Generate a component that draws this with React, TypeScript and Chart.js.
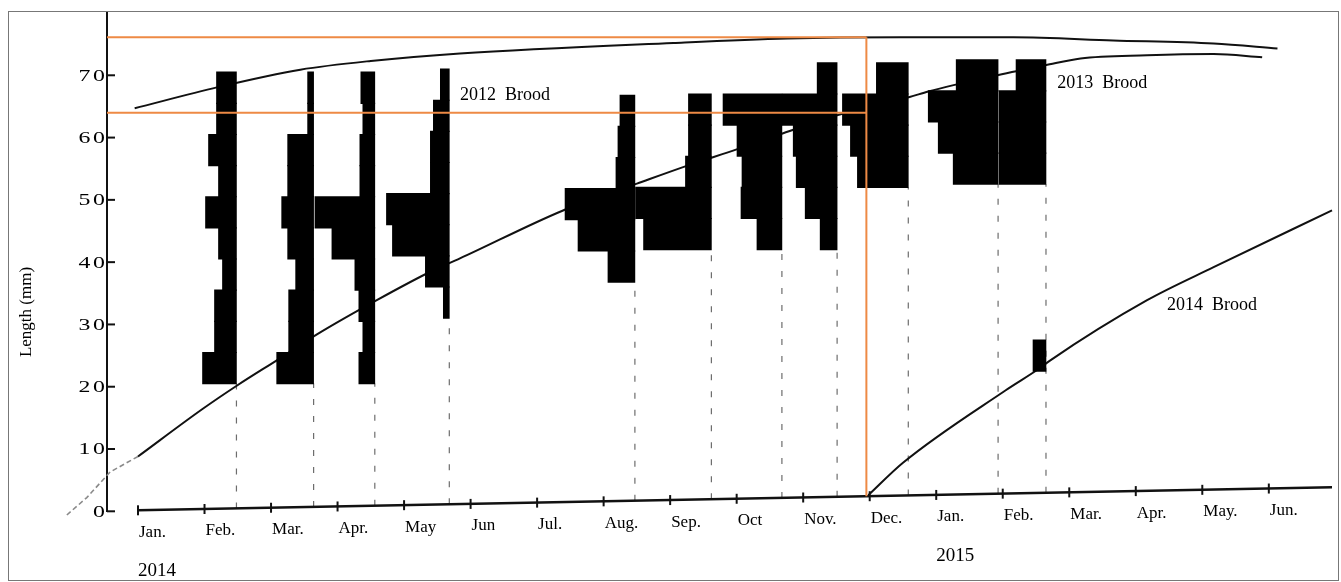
import React, { useEffect, useRef } from 'react';
import { Chart, registerables } from 'chart.js';

Chart.register(...registerables);

const SERIF = '"Liberation Serif", "Times New Roman", serif';

// Time axis: month index, 0 = January 2014, 12 = January 2015
const MONTH_LABELS = ['Jan.', 'Feb.', 'Mar.', 'Apr.', 'May', 'Jun', 'Jul.', 'Aug.', 'Sep.', 'Oct', 'Nov.', 'Dec.',
  'Jan.', 'Feb.', 'Mar.', 'Apr.', 'May.', 'Jun.'];
const YEAR_LABELS = ['2014', '2015'];
const YEAR_START_MONTHS = [0, 12];
const LENGTH_TICKS = [0, 10, 20, 30, 40, 50, 60, 70];

// The drawn time axis drifts upward slightly from left to right (mm at its two ends)
const TIME_AXIS_MONTHS = [0, 17.95];
const TIME_AXIS_MM = [0.16, 3.85];

// Sampling dates and length-frequency per 5 mm size class (counts from the lowest class upward)
const SAMPLE_MONTHS = [1.48, 2.64, 3.56, 4.68, 7.47, 8.62, 9.68, 10.51, 11.58, 12.93, 13.65];
const SAMPLE_LOWEST_CLASS_MM = [20.5, 20.5, 20.5, 31, 36.8, 42, 42, 42, 52, 52.5, 22.5];
const SAMPLE_COUNTS = [
  [34, 22, 22, 14, 18, 31, 18, 28, 20, 20],
  [37, 25, 25, 18, 26, 32, 26, 26, 6, 6],
  [16, 12, 16, 20, 43, 60, 15, 15, 12, 14],
  [6, 24, 57, 63, 19, 19, 16, 9],
  [27, 57, 70, 19, 17, 15],
  [68, 76, 26, 23, 23],
  [25, 41, 40, 45, 59],
  [17, 32, 41, 44, 55, 20],
  [51, 58, 66, 32],
  [45, 60, 70, 42],
  [13, 0, 0, 0, 0, 0, 47, 47, 47, 30],
];
const CLASS_WIDTH_MM = 5;
const MONTHS_PER_FISH = 0.015;

// Growth curves: [month index, length mm]
const BROOD_2012 = [[-0.05, 64.7], [1.2, 68.1], [2.44, 70.9], [3.5, 72.3], [4.84, 73.5], [8.05, 75.2],
  [9.76, 75.9], [11.46, 76.1], [13.16, 76.1], [14.66, 75.6], [16.17, 75.1], [17.13, 74.3]];
// back-calculated part before January, listed from January backwards
const BROOD_2013_EARLY = [[0, 8.8], [-0.42, 6.3], [-0.77, 2.2], [-1.07, -0.6]];
const BROOD_2013 = [[0, 8.8], [0.98, 16.5], [1.49, 20.2], [2.14, 24.6], [2.69, 28.4],
  [3.59, 33.9], [4.44, 38.7], [4.84, 40.6], [6.39, 48.3], [7.5, 52.6], [8.26, 55.5], [9.0, 58.1],
  [9.7, 60.7], [10.55, 63.7], [11.6, 66.5], [11.88, 67.4], [12.92, 70.0], [13.64, 71.6],
  [14.17, 72.7], [15.17, 73.2], [16.17, 73.4], [16.9, 72.9]];
const BROOD_2014 = [[10.98, 2.6], [11.5, 7.8], [13.04, 19.4], [13.56, 23.0], [13.71, 24.2],
  [15.17, 33.9], [16.17, 39.2], [17.95, 48.3]];

// Reference guides at the December sample
const GUIDE_MONTH = 10.95;
const GUIDE_LEVELS_MM = [76.1, 64.0];

const BROOD_NAMES = ['2012  Brood', '2013  Brood', '2014  Brood'];
const BROOD_NAME_ANCHORS = [[4.84, 66.8], [13.82, 68.7], [15.47, 33.1]];

const X_MIN = -0.466;
const X_MAX = 18.04;

const axisMm = (m: number) =>
  TIME_AXIS_MM[0] + ((TIME_AXIS_MM[1] - TIME_AXIS_MM[0]) * (m - TIME_AXIS_MONTHS[0])) /
    (TIME_AXIS_MONTHS[1] - TIME_AXIS_MONTHS[0]);

const toPoints = (pairs: number[][]) => pairs.map(([x, y]) => ({ x, y }));

function buildHistogramBars() {
  const bars: { x: number[]; y: number }[] = [];
  SAMPLE_MONTHS.forEach((month, s) => {
    SAMPLE_COUNTS[s].forEach((count, k) => {
      if (count > 0) {
        bars.push({
          y: SAMPLE_LOWEST_CLASS_MM[s] + CLASS_WIDTH_MM * (k + 0.5),
          x: [month - count * MONTHS_PER_FISH, month],
        });
      }
    });
  });
  return bars;
}

// lower edge of the uppermost continuous block of size classes
function sampleLineTop(s: number) {
  const counts = SAMPLE_COUNTS[s];
  let k = counts.length - 1;
  while (k > 0 && counts[k - 1] > 0) k--;
  return SAMPLE_LOWEST_CLASS_MM[s] + CLASS_WIDTH_MM * k;
}

const lineBase = {
  type: 'line' as const,
  pointRadius: 0,
  fill: false,
  clip: false as any,
};

// wide, slightly tracked numerals, right-aligned at xRight
function drawWideNumber(ctx: CanvasRenderingContext2D, text: string, xRight: number, yMid: number) {
  const stretch = 1.4;
  const gap = 2;
  const widths = [...text].map((c) => ctx.measureText(c).width);
  const total = widths.reduce((a, b) => a + b, 0) + gap * (widths.length - 1);
  ctx.save();
  ctx.translate(xRight - total * stretch, yMid);
  ctx.scale(stretch, 1);
  let cx = 0;
  [...text].forEach((c, i) => {
    ctx.fillText(c, cx, 0);
    cx += widths[i] + gap;
  });
  ctx.restore();
}

const overlayPlugin = {
  id: 'figureOverlay',
  afterDatasetsDraw(chart: any) {
    const { ctx, chartArea, scales } = chart;
    const x = scales.x;
    const y = scales.y;
    ctx.save();

    // length axis: inward tick marks and labels
    ctx.strokeStyle = '#111';
    ctx.fillStyle = '#000';
    ctx.lineWidth = 2;
    ctx.textBaseline = 'middle';
    ctx.textAlign = 'left';
    ctx.font = `17px ${SERIF}`;
    LENGTH_TICKS.forEach((v) => {
      const py = y.getPixelForValue(v);
      ctx.beginPath();
      ctx.moveTo(chartArea.left, py);
      ctx.lineTo(chartArea.left + 8, py);
      ctx.stroke();
      drawWideNumber(ctx, String(v), chartArea.left - 2, py + 1);
    });

    // month ticks and labels along the time axis
    MONTH_LABELS.forEach((label, m) => {
      const px = x.getPixelForValue(m);
      const py = y.getPixelForValue(axisMm(m));
      ctx.beginPath();
      ctx.moveTo(px, py - 5);
      ctx.lineTo(px, py + 5);
      ctx.stroke();
      ctx.fillText(label, px + 1, py + 22);
    });

    ctx.font = `19px ${SERIF}`;
    YEAR_LABELS.forEach((label, i) => {
      const m = YEAR_START_MONTHS[i];
      const px = x.getPixelForValue(m);
      const py = y.getPixelForValue(axisMm(m));
      ctx.fillText(label, px, py + 61);
    });

    // brood names
    ctx.font = `18px ${SERIF}`;
    BROOD_NAMES.forEach((name, i) => {
      const [m, mm] = BROOD_NAME_ANCHORS[i];
      ctx.fillText(name, x.getPixelForValue(m), y.getPixelForValue(mm));
    });

    // length axis title
    ctx.font = `17px ${SERIF}`;
    ctx.textAlign = 'center';
    ctx.translate(chartArea.left - 80, y.getPixelForValue(32));
    ctx.rotate(-Math.PI / 2);
    ctx.fillText('Length (mm)', 0, 0);

    ctx.restore();
  },
};

export default function App() {
  const canvasRef = useRef<HTMLCanvasElement | null>(null);

  useEffect(() => {
    const canvas = canvasRef.current;
    if (!canvas) return;

    const guideColor = '#EE8A45';
    const datasets: any[] = [];

    GUIDE_LEVELS_MM.forEach((level) => {
      datasets.push({
        ...lineBase,
        data: [{ x: X_MIN, y: level }, { x: GUIDE_MONTH, y: level }],
        borderColor: guideColor,
        borderWidth: 2,
        order: 0,
      });
    });
    datasets.push({
      ...lineBase,
      data: [{ x: GUIDE_MONTH, y: GUIDE_LEVELS_MM[0] }, { x: GUIDE_MONTH, y: axisMm(GUIDE_MONTH) }],
      borderColor: guideColor,
      borderWidth: 2,
      order: 0,
    });

    datasets.push({
      type: 'bar',
      indexAxis: 'y',
      data: buildHistogramBars(),
      backgroundColor: '#000',
      borderWidth: 0,
      barThickness: 31.6,
      grouped: false,
      order: 1,
    });

    [BROOD_2012, BROOD_2013, BROOD_2014].forEach((curve) => {
      datasets.push({
        ...lineBase,
        data: toPoints(curve),
        borderColor: '#111',
        borderWidth: 2,
        cubicInterpolationMode: 'monotone',
        order: 2,
      });
    });
    datasets.push({
      ...lineBase,
      data: toPoints(BROOD_2013_EARLY),
      borderColor: '#8a8a8a',
      borderWidth: 1.6,
      borderDash: [5, 3],
      order: 2,
    });

    datasets.push({
      ...lineBase,
      data: TIME_AXIS_MONTHS.map((m, i) => ({ x: m, y: TIME_AXIS_MM[i] })),
      borderColor: '#111',
      borderWidth: 2.5,
      order: 3,
    });

    SAMPLE_MONTHS.forEach((m, s) => {
      datasets.push({
        ...lineBase,
        data: [{ x: m, y: axisMm(m) }, { x: m, y: sampleLineTop(s) }],
        borderColor: 'rgba(60,60,60,0.75)',
        borderWidth: 1.2,
        borderDash: [6, 11],
        order: 4,
      });
    });

    const chart = new Chart(canvas, {
      type: 'line',
      data: { datasets },
      options: {
        responsive: false,
        animation: false,
        events: [],
        layout: { padding: { top: 1, bottom: 68.7, left: 0, right: 0 } },
        plugins: { legend: { display: false }, tooltip: { enabled: false } },
        scales: {
          x: { type: 'linear', min: X_MIN, max: X_MAX, display: false, offset: false },
          y: {
            type: 'linear',
            min: 0,
            max: 80,
            offset: false,
            afterBuildTicks: (scale: any) => {
              scale.ticks = LENGTH_TICKS.map((value) => ({ value }));
            },
            afterFit: (scale: any) => {
              scale.width = 98;
              scale.paddingTop = 0;
              scale.paddingBottom = 0;
            },
            ticks: { display: false },
            grid: { display: true, drawOnChartArea: false, drawTicks: false },
            border: { display: true, color: '#111', width: 2 },
          },
        },
      } as any,
      plugins: [overlayPlugin],
    });

    return () => chart.destroy();
  }, []);

  return (
    <div
      style={{
        position: 'fixed',
        left: 8,
        top: 11,
        width: 1331,
        height: 570,
        border: '1px solid #777',
        boxSizing: 'border-box',
        background: '#fff',
      }}
    >
      <canvas ref={canvasRef} width={1329} height={568} style={{ display: 'block' }} />
    </div>
  );
}
